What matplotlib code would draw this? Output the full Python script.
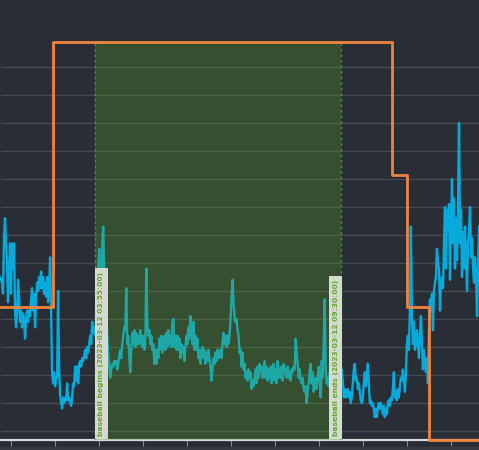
import numpy as np
import pandas as pd
import matplotlib
matplotlib.use("Agg")
import matplotlib.pyplot as plt
import matplotlib.dates as mdates
import matplotlib.transforms as mtransforms
from matplotlib.patches import Rectangle

# sampled series (approx. 82 s interval)
start = pd.Timestamp("2023-03-12 01:45:24")
step = pd.Timedelta(seconds=82)
blue = [
    55, 54, 53, 49, 69, 76, 67, 61, 46, 55, 67, 49, 67, 58, 67, 43, 37, 42, 54, 48,
    39, 43, 37, 42, 40, 33, 40, 43, 39, 43, 41, 47, 51, 43, 49, 37, 47, 53, 50, 55,
    51, 57, 51, 55, 49, 53, 48, 55, 46, 51, 62, 43, 21, 17, 21, 16, 19, 19, 50, 22,
    13, 10, 8, 12, 10, 12, 11, 17, 11, 12, 10, 9, 12, 17, 16, 23, 18, 23, 17, 24,
    25, 23, 26, 25, 27, 29, 26, 30, 28, 31, 34, 31, 39, 35, 37, 34, 40, 47, 58, 65,
    54, 47, 66, 73, 58, 47, 43, 34, 28, 23, 19, 22, 24, 23, 25, 24, 25, 22, 24, 27,
    29, 26, 31, 34, 37, 36, 51, 31, 34, 26, 21, 29, 35, 31, 36, 30, 35, 31, 34, 31,
    36, 33, 30, 34, 29, 31, 58, 39, 34, 36, 31, 34, 29, 31, 24, 29, 24, 29, 26, 33,
    29, 34, 28, 31, 34, 29, 35, 30, 36, 31, 34, 30, 39, 40, 30, 34, 29, 34, 29, 33,
    26, 31, 28, 30, 25, 30, 34, 31, 37, 33, 41, 34, 31, 39, 29, 34, 29, 33, 26, 29,
    24, 28, 30, 26, 29, 24, 28, 25, 29, 26, 23, 18, 22, 26, 24, 28, 25, 29, 26, 28,
    29, 26, 31, 35, 31, 34, 30, 34, 31, 34, 40, 47, 54, 46, 41, 39, 40, 36, 34, 28,
    29, 23, 28, 22, 24, 19, 21, 18, 22, 19, 21, 15, 18, 16, 19, 22, 17, 23, 19, 24,
    21, 23, 19, 22, 25, 19, 23, 18, 22, 19, 23, 17, 21, 24, 18, 22, 17, 25, 19, 22,
    19, 23, 18, 24, 21, 22, 19, 23, 19, 21, 18, 22, 21, 23, 22, 33, 29, 24, 19, 22,
    18, 17, 19, 15, 14, 16, 10, 14, 17, 21, 24, 17, 21, 14, 17, 19, 15, 19, 23, 19,
    12, 25, 19, 31, 47, 22, 17, 19, 16, 21, 22, 18, 22, 15, 20, 24, 16, 18, 22, 20,
    18, 22, 18, 12, 15, 12, 14, 15, 12, 14, 10, 12, 17, 22, 24, 18, 19, 15, 17, 14,
    11, 10, 12, 17, 21, 16, 19, 24, 17, 10, 11, 9, 10, 8, 5, 8, 5, 8, 10, 8,
    10, 8, 6, 9, 5, 8, 6, 10, 11, 9, 12, 11, 15, 21, 12, 14, 11, 15, 12, 16,
    19, 18, 22, 18, 14, 21, 31, 34, 29, 43, 73, 41, 31, 39, 29, 31, 36, 31, 26, 34,
    41, 31, 22, 29, 24, 21, 26, 17, 36, 47, 43, 49, 36, 50, 53, 55, 65, 60, 58, 43,
    53, 55, 51, 67, 80, 58, 79, 72, 81, 54, 74, 90, 67, 83, 58, 76, 61, 79, 110, 67,
    79, 55, 71, 58, 73, 62, 50, 67, 72, 80, 62, 69, 58, 53, 62, 55, 41, 58, 73,
]
times = start + step * np.arange(len(blue))

# step series (0-3)
level_times = pd.to_datetime([
    "2023-03-12 01:40", "2023-03-12 02:57", "2023-03-12 10:40",
    "2023-03-12 11:00", "2023-03-12 11:30", "2023-03-12 12:45",
])
levels = [1, 3, 2, 1, 0, 0]

event_start = pd.Timestamp("2023-03-12 03:55:00")
event_end = pd.Timestamp("2023-03-12 09:30:00")
label_start = "baseball begins (2023-03-12 03:55:00)"
label_end = "baseball ends (2023-03-12 09:30:00)"

bg = "#292d36"
fig = plt.figure(figsize=(4.79, 4.50), dpi=100, facecolor=bg)
fig.patches.append(Rectangle((0, 0), 1, 3 / 450, transform=fig.transFigure,
                             color="#363940", zorder=0))
ax = fig.add_axes([0, 10 / 450, 1, 398 / 450])
ax.set_facecolor(bg)

ax.plot(times, blue, color="#06abdc", lw=1.7, zorder=2)
ax.set_ylim(-3.21, 138.9)
ax.set_yticks(np.arange(0, 140, 10))
ax.grid(axis="y", color="#474a51", lw=1)
ax.set_axisbelow(True)

ax.axvspan(event_start, event_end, color="#55a028", alpha=0.3, lw=0, zorder=3)
for t in (event_start, event_end):
    ax.axvline(t, color="#4f8f25", lw=1, ls=(0, (2, 2)), zorder=4)

xmax = start + pd.Timedelta(seconds=39191)
ax.set_xlim(start, xmax)
ax.xaxis.set_major_locator(mdates.HourLocator())
ax.tick_params(axis="x", length=4, color="#85878c", labelbottom=False)
ax.tick_params(axis="y", left=False, labelleft=False)
for s in ("top", "left", "right"):
    ax.spines[s].set_visible(False)
ax.spines["bottom"].set_color("#d8d9da")
ax.spines["bottom"].set_linewidth(1.6)

box = dict(boxstyle="square,pad=0.45", fc="#d5d9d0", ec="none")
trans = mtransforms.blended_transform_factory(ax.transData, ax.transAxes)
for t, label, dx in ((event_start, label_start, 4.4), (event_end, label_end, -3.6)):
    ax.annotate(label, xy=(mdates.date2num(t), 0), xycoords=trans,
                xytext=(dx, 3), textcoords="offset points", rotation=90,
                ha="center", va="bottom", fontsize=5.4, fontweight="bold",
                color="#5fa82e", bbox=box, zorder=10)

ax2 = ax.twinx()
ax2.plot(level_times, levels, drawstyle="steps-post", color="#f0843e", lw=2,
         clip_on=False)
ax2.set_ylim(0, 3)
ax2.set_yticks([])
for s in ax2.spines.values():
    s.set_visible(False)
ax2.set_xlim(start, xmax)

fig.savefig("out.png", dpi=100, facecolor=bg)
